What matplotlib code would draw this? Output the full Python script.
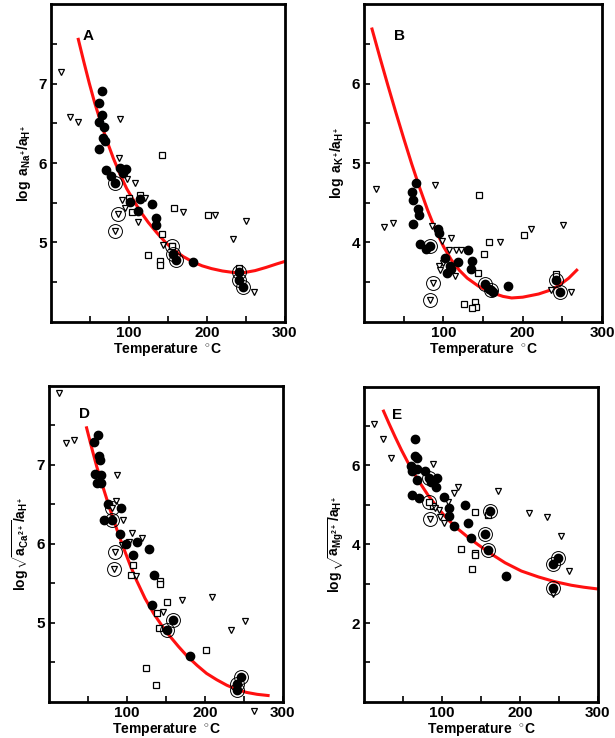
import matplotlib
matplotlib.use("Agg")
import matplotlib.pyplot as plt
import numpy as np

plt.rcParams['font.family'] = ['Liberation Sans', 'DejaVu Sans']
plt.rcParams['mathtext.fontset'] = 'custom'
plt.rcParams['mathtext.rm'] = 'Liberation Sans:bold'
plt.rcParams['mathtext.it'] = 'Liberation Sans:bold'
plt.rcParams['mathtext.bf'] = 'Liberation Sans:bold'

# ---- Panel A: Na ----
a_fill_t = [65, 61, 66, 61, 68, 67, 69, 62, 71, 77, 88, 96, 93, 101, 111, 114, 130, 135, 135, 182]
a_fill_y = [6.91, 6.76, 6.61, 6.52, 6.45, 6.32, 6.28, 6.18, 5.91, 5.84, 5.94, 5.93, 5.88, 5.51, 5.40, 5.55, 5.48, 5.31, 5.22, 4.75]
a_tri_t = [13, 24, 35, 89, 87, 97, 108, 91, 95, 121, 112, 170, 210, 250, 233, 261, 144]
a_tri_y = [7.15, 6.58, 6.52, 6.55, 6.06, 5.80, 5.75, 5.54, 5.44, 5.56, 5.26, 5.38, 5.35, 5.27, 5.04, 4.38, 4.97]
a_sq_t = [142, 114, 100, 104, 158, 201, 142, 125, 140, 140, 155, 241]
a_sq_y = [6.10, 5.60, 5.56, 5.38, 5.43, 5.34, 5.11, 4.84, 4.76, 4.71, 4.96, 4.68]
a_ring_t = [82, 86, 82, 155, 156, 160, 241, 241, 247]
a_ring_y = [5.75, 5.36, 5.14, 4.96, 4.85, 4.78, 4.63, 4.53, 4.44]
a_ring_in = ['o', 'v', 'v', 's', 'o', 'o', 'o', 'o', 'o']
a_fit_t = [35, 42, 49, 56, 63, 71, 80, 89, 97, 106, 114, 125, 136, 147, 157, 170, 182, 194, 206, 220, 235, 248, 262, 276, 290, 300]
a_fit_y = [7.56, 7.28, 7.01, 6.76, 6.54, 6.30, 6.06, 5.85, 5.68, 5.53, 5.40, 5.25, 5.12, 5.00, 4.91, 4.82, 4.755, 4.705, 4.67, 4.64, 4.62, 4.62, 4.645, 4.685, 4.73, 4.76]

# ---- Panel B: K ----
b_fill_t = [66, 60, 62, 68, 69, 62, 93, 95, 71, 78, 102, 108, 110, 105, 118, 131, 136, 135, 158, 162, 182]
b_fill_y = [4.75, 4.64, 4.54, 4.42, 4.34, 4.23, 4.17, 4.12, 3.98, 3.92, 3.81, 3.70, 3.67, 3.62, 3.75, 3.90, 3.76, 3.67, 3.41, 3.38, 3.45]
b_tri_t = [15, 25, 36, 90, 86, 98, 109, 107, 116, 122, 100, 94, 96, 114, 171, 210, 251, 261, 236]
b_tri_y = [4.67, 4.19, 4.25, 4.72, 4.21, 4.02, 4.05, 3.90, 3.90, 3.90, 3.74, 3.70, 3.65, 3.58, 4.00, 4.17, 4.22, 3.37, 3.40]
b_sq_t = [145, 158, 151, 143, 126, 140, 141, 136, 202, 242]
b_sq_y = [4.60, 4.00, 3.85, 3.62, 3.22, 3.25, 3.18, 3.17, 4.09, 3.60]
b_ring_t = [83, 87, 83, 153, 160, 242, 247]
b_ring_y = [3.95, 3.49, 3.28, 3.47, 3.40, 3.53, 3.38]
b_ring_in = ['o', 'v', 'v', 'o', 'o', 'o', 'o']
b_fit_t = [10, 20, 30, 40, 50, 60, 70, 80, 90, 100, 110, 120, 130, 144, 160, 175, 186, 200, 220, 235, 246, 258, 268]
b_fit_y = [6.69, 6.33, 5.98, 5.64, 5.31, 4.99, 4.69, 4.41, 4.16, 3.95, 3.78, 3.65, 3.55, 3.45, 3.37, 3.32, 3.30, 3.31, 3.35, 3.40, 3.46, 3.55, 3.65]

# ---- Panel D: Ca ----
d_fill_t = [63, 58, 64, 65, 59, 66, 61, 66, 75, 92, 70, 91, 108, 113, 128, 134, 132, 99, 181]
d_fill_y = [7.38, 7.29, 7.11, 7.06, 6.89, 6.87, 6.77, 6.77, 6.50, 6.45, 6.30, 6.13, 5.86, 6.02, 5.93, 5.60, 5.22, 6.00, 4.58]
d_tri_t = [12, 22, 32, 87, 86, 95, 94, 106, 102, 119, 112, 146, 170, 209, 234, 251, 263]
d_tri_y = [7.91, 7.28, 7.32, 6.87, 6.54, 6.30, 5.98, 6.14, 6.02, 6.07, 5.59, 5.14, 5.29, 5.33, 4.91, 5.03, 3.89]
d_sq_t = [108, 105, 142, 142, 151, 139, 141, 124, 137, 201]
d_sq_y = [5.73, 5.60, 5.53, 5.49, 5.26, 5.12, 4.94, 4.43, 4.21, 4.66]
d_ring_t = [81, 80, 85, 83, 151, 159, 241, 246, 241]
d_ring_y = [6.46, 6.30, 5.90, 5.68, 4.91, 5.04, 4.22, 4.32, 4.15]
d_ring_in = ['v', 'o', 'v', 'v', 'o', 'o', 'o', 'o', 'o']
d_fit_t = [48, 55, 61, 70, 78, 87, 95, 104, 112, 123, 134, 145, 155, 166, 177, 190, 202, 215, 228, 240, 253, 267, 281]
d_fit_y = [7.47, 7.20, 6.98, 6.69, 6.44, 6.18, 5.96, 5.73, 5.54, 5.31, 5.12, 4.96, 4.83, 4.70, 4.58, 4.46, 4.36, 4.28, 4.21, 4.16, 4.12, 4.095, 4.08]

# ---- Panel E: Mg ----
e_fill_t = [65, 65, 68, 60, 61, 68, 78, 68, 86, 94, 92, 61, 71, 102, 109, 109, 115, 130, 133, 137, 182]
e_fill_y = [6.67, 6.25, 6.20, 5.99, 5.85, 5.91, 5.86, 5.63, 5.59, 5.69, 5.45, 5.25, 5.18, 5.21, 4.93, 4.72, 4.47, 5.00, 4.53, 4.15, 3.19]
e_tri_t = [13, 24, 35, 88, 121, 115, 172, 108, 96, 91, 103, 97, 212, 235, 253, 263, 243]
e_tri_y = [7.06, 6.67, 6.20, 6.04, 5.46, 5.31, 5.34, 5.07, 4.87, 4.91, 4.53, 4.68, 4.79, 4.70, 4.21, 3.32, 2.75]
e_sq_t = [142, 125, 143, 142, 138, 159, 89]
e_sq_y = [4.83, 3.87, 3.77, 3.72, 3.36, 4.74, 4.96]
e_ring_t = [83, 83, 85, 155, 159, 162, 243, 249, 242]
e_ring_y = [5.68, 5.08, 4.64, 4.25, 3.85, 4.85, 3.51, 3.66, 2.89]
e_ring_in = ['o', 's', 'v', 'o', 'o', 'o', 'o', 'o', 'o']
e_fit_t = [25, 32, 40, 48, 57, 70, 82, 95, 108, 121, 134, 147, 164, 181, 202, 224, 245, 266, 282, 298]
e_fit_y = [7.38, 7.065, 6.72, 6.39, 6.05, 5.61, 5.25, 4.91, 4.62, 4.38, 4.17, 3.98, 3.745, 3.53, 3.32, 3.17, 3.05, 2.96, 2.91, 2.87]

fig = plt.figure(figsize=(6.15, 7.38), dpi=100)


def panel(rect, fill_t, fill_y, tri_t, tri_y, sq_t, sq_y, ring_t, ring_y, ring_in,
          fit_t, fit_y, ylim, yticks, yminor, ylabel, letter, letter_xy):
    ax = fig.add_axes(rect)
    ax.plot(fit_t, fit_y, color='#ff1010', lw=2.2, zorder=2, solid_joinstyle='round')
    ax.plot(sq_t, sq_y, 's', ms=3.8, mfc='white', mec='black', mew=0.9, zorder=3)
    ax.plot(tri_t, tri_y, 'v', ms=4.8, mfc='white', mec='black', mew=0.9, zorder=3, clip_on=False)
    ax.plot(fill_t, fill_y, 'o', ms=6, color='black', zorder=4)
    for t, y, m in zip(ring_t, ring_y, ring_in):
        if m == 'o':
            ax.plot(t, y, 'o', ms=6, color='black', zorder=4)
        elif m == 'v':
            ax.plot(t, y, 'v', ms=4.8, mfc='white', mec='black', mew=0.9, zorder=4)
        else:
            ax.plot(t, y, 's', ms=3.8, mfc='white', mec='black', mew=0.9, zorder=4)
        ax.plot(t, y, 'o', ms=10, mfc='none', mec='black', mew=0.7, zorder=4)
    ax.set_xlim(0, 300)
    ax.set_ylim(*ylim)
    ax.set_xticks([100, 200, 300])
    ax.set_xticks([50, 150, 250], minor=True)
    ax.set_yticks(yticks)
    ax.set_yticks(yminor, minor=True)
    ax.tick_params(which='both', direction='in', length=4, width=1.2, labelsize=11, pad=3)
    for lab in ax.get_xticklabels() + ax.get_yticklabels():
        lab.set_fontweight('bold')
    for s in ax.spines.values():
        s.set_linewidth(2)
    ax.set_xlabel('Temperature  $^{\\circ}$C', fontsize=10, fontweight='bold', labelpad=1)
    ax.set_ylabel(ylabel, fontsize=10, labelpad=4)
    ax.text(letter_xy[0], letter_xy[1], letter, fontsize=11, fontweight='bold',
            transform=ax.transAxes, ha='center', va='center')
    return ax


panel([0.083, 0.564, 0.380, 0.430], a_fill_t, a_fill_y, a_tri_t, a_tri_y, a_sq_t, a_sq_y,
      a_ring_t, a_ring_y, a_ring_in, a_fit_t, a_fit_y, (4, 8), [5, 6, 7], [4.5, 5.5, 6.5, 7.5],
      r'$\log\ a_{Na^{+}}/a_{H^{+}}$', 'A', (0.16, 0.90))
panel([0.592, 0.564, 0.387, 0.430], b_fill_t, b_fill_y, b_tri_t, b_tri_y, b_sq_t, b_sq_y,
      b_ring_t, b_ring_y, b_ring_in, b_fit_t, b_fit_y, (3, 7), [4, 5, 6], [3.5, 4.5, 5.5, 6.5],
      r'$\log\ a_{K^{+}}/a_{H^{+}}$', 'B', (0.15, 0.90))
panel([0.080, 0.049, 0.380, 0.428], d_fill_t, d_fill_y, d_tri_t, d_tri_y, d_sq_t, d_sq_y,
      d_ring_t, d_ring_y, d_ring_in, d_fit_t, d_fit_y, (4, 8), [5, 6, 7], [4.5, 5.5, 6.5, 7.5],
      r'$\log \sqrt{a_{Ca^{2+}}}/a_{H^{+}}$', 'D', (0.15, 0.91))
panel([0.592, 0.049, 0.380, 0.427], e_fill_t, e_fill_y, e_tri_t, e_tri_y, e_sq_t, e_sq_y,
      e_ring_t, e_ring_y, e_ring_in, e_fit_t, e_fit_y, (0, 8), [2, 4, 6], [1, 3, 5, 7],
      r'$\log \sqrt{a_{Mg^{2+}}}/a_{H^{+}}$', 'E', (0.14, 0.91))

fig.savefig('out.png', dpi=100)
